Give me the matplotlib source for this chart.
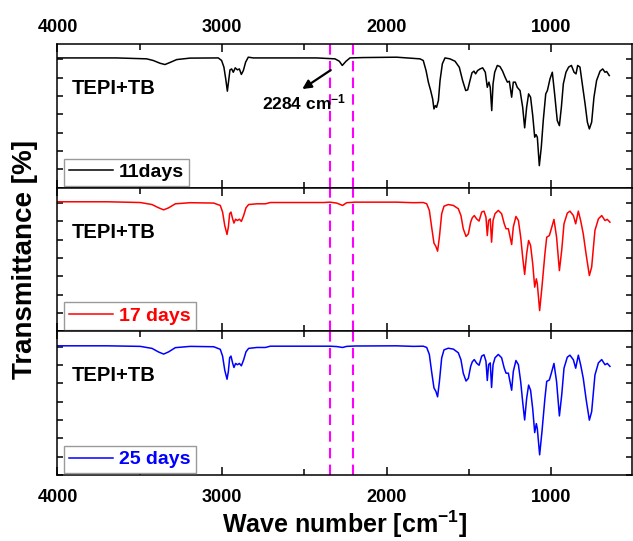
import matplotlib
matplotlib.use("Agg")
import matplotlib.pyplot as plt
from matplotlib.ticker import MultipleLocator

plt.rcParams['font.family'] = ['Liberation Sans', 'DejaVu Sans']
plt.rcParams['font.weight'] = 'bold'
plt.rcParams['mathtext.fontset'] = 'custom'
plt.rcParams['mathtext.rm'] = 'Liberation Sans:bold'
plt.rcParams['mathtext.it'] = 'Liberation Sans:bold'
plt.rcParams['mathtext.bf'] = 'Liberation Sans:bold'

# spectra (wavenumber, transmittance in tick units)
wn_11 = [4000, 3641, 3458, 3418, 3377, 3347, 3317, 3276, 3195, 3023, 3003, 2989, 2978, 2968,
         2960, 2952, 2942, 2932, 2920, 2907, 2895, 2883, 2871, 2857, 2841, 2810, 2628, 2426,
         2314, 2288, 2270, 2247, 2223, 2142, 1940, 1798, 1778, 1761, 1747, 1733, 1721, 1713,
         1705, 1697, 1686, 1676, 1662, 1646, 1616, 1585, 1559, 1539, 1520, 1508, 1494, 1482,
         1470, 1460, 1448, 1433, 1417, 1401, 1389, 1379, 1371, 1362, 1354, 1344, 1328, 1312,
         1296, 1281, 1267, 1255, 1241, 1231, 1219, 1207, 1190, 1174, 1162, 1150, 1138, 1126,
         1113, 1101, 1093, 1085, 1073, 1061, 1049, 1034, 1024, 1008, 994, 980, 964, 951, 939,
         927, 911, 895, 878, 862, 850, 840, 826, 812, 795, 781, 769, 755, 741, 725, 704, 688,
         674, 664, 648]
t_11 = [7.07, 7.07, 7.02, 6.93, 6.78, 6.71, 6.82, 6.98, 7.06, 7.07, 6.93, 6.57, 5.93, 5.26,
        5.84, 6.42, 6.47, 6.29, 6.53, 6.42, 6.47, 6.17, 6.38, 6.84, 7.11, 7.07, 7.07, 7.07,
        7.02, 6.89, 6.66, 6.89, 7.07, 7.09, 7.11, 7.02, 6.93, 6.38, 5.75, 5.29, 4.84, 4.29,
        4.47, 4.38, 4.75, 5.84, 6.75, 7.07, 7.02, 6.89, 6.56, 5.84, 5.29, 5.33, 5.84, 6.26,
        6.35, 6.20, 6.38, 6.47, 6.53, 6.29, 5.47, 5.75, 5.47, 4.20, 5.66, 6.29, 6.66, 6.60,
        6.35, 6.02, 5.75, 5.80, 4.93, 5.75, 5.75, 5.47, 5.29, 4.38, 3.26, 4.38, 5.11, 4.93,
        3.93, 2.75, 2.89, 2.75, 1.20, 2.20, 3.66, 5.11, 5.29, 5.93, 6.29, 5.11, 3.66, 3.38, 4.38,
        5.66, 6.29, 6.57, 6.66, 6.29, 6.20, 6.66, 6.57, 5.66, 4.57, 3.57, 3.20, 3.57, 4.93, 5.84,
        6.35, 6.47, 6.29, 6.33, 6.11]

wn_17 = [4000, 3699, 3497, 3426, 3385, 3355, 3325, 3284, 3193, 3051, 3011, 2997, 2984, 2970,
         2962, 2954, 2946, 2936, 2928, 2918, 2907, 2895, 2883, 2869, 2855, 2839, 2788, 2737,
         2707, 2383, 2345, 2304, 2268, 2243, 2193, 1940, 1838, 1778, 1757, 1741, 1727, 1713,
         1701, 1691, 1680, 1666, 1652, 1626, 1595, 1565, 1549, 1535, 1518, 1504, 1490, 1480,
         1468, 1454, 1439, 1423, 1409, 1397, 1389, 1381, 1371, 1363, 1354, 1342, 1322, 1302,
         1286, 1275, 1261, 1241, 1231, 1215, 1200, 1186, 1174, 1162, 1150, 1138, 1126, 1113,
         1101, 1091, 1085, 1071, 1057, 1039, 1028, 1012, 1000, 984, 968, 951, 937, 923, 903,
         887, 866, 852, 836, 822, 806, 789, 769, 755, 735, 714, 694, 674, 660, 644]
t_17 = [7.06, 7.06, 7.02, 6.91, 6.73, 6.62, 6.73, 6.95, 7.01, 6.99, 6.86, 6.50, 5.77, 5.28,
        5.68, 6.41, 6.50, 6.13, 5.90, 6.11, 6.04, 6.11, 5.99, 6.31, 6.73, 6.91, 6.95, 6.95,
        7.02, 7.02, 7.04, 6.99, 6.86, 7.01, 7.04, 7.04, 7.01, 7.02, 6.95, 6.59, 5.68, 4.81,
        4.62, 4.37, 5.13, 6.41, 6.82, 6.91, 6.86, 6.68, 6.31, 5.59, 5.17, 5.31, 5.95, 6.19,
        6.31, 6.13, 6.01, 6.50, 6.55, 6.22, 5.22, 6.04, 6.13, 4.86, 6.04, 6.41, 6.59, 6.41,
        5.86, 5.59, 5.59, 4.73, 5.68, 6.26, 6.04, 5.13, 4.04, 3.10, 4.22, 4.95, 4.68, 3.68,
        2.41, 2.86, 2.59, 1.13, 2.41, 4.22, 5.13, 5.22, 5.59, 6.10, 5.13, 3.31, 4.41, 5.86, 6.44,
        6.55, 6.31, 5.86, 6.55, 6.04, 5.31, 4.22, 3.04, 3.50, 5.50, 6.13, 6.31, 6.04, 6.10, 5.95]

wn_25 = wn_17
t_25 = [7.04, 7.04, 7.01, 6.90, 6.70, 6.59, 6.71, 6.94, 7.01, 6.99, 6.85, 6.48, 5.72, 5.22,
        5.64, 6.39, 6.48, 6.10, 5.86, 6.08, 6.01, 6.08, 5.95, 6.28, 6.71, 6.90, 6.95, 6.95,
        7.02, 7.02, 7.02, 7.00, 6.95, 7.01, 7.03, 7.04, 7.01, 7.02, 6.95, 6.57, 5.62, 4.75,
        4.55, 4.26, 5.08, 6.38, 6.82, 6.91, 6.86, 6.66, 6.28, 5.55, 5.12, 5.27, 5.92, 6.17,
        6.29, 6.10, 5.98, 6.48, 6.55, 6.20, 5.15, 6.02, 6.11, 4.77, 6.01, 6.39, 6.57, 6.39,
        5.82, 5.55, 5.55, 4.62, 5.64, 6.24, 6.01, 5.08, 3.98, 3.00, 4.17, 4.90, 4.62, 3.60,
        2.31, 2.80, 2.52, 1.10, 2.35, 4.17, 5.10, 5.18, 5.55, 6.08, 5.08, 3.22, 4.35, 5.82, 6.42,
        6.53, 6.28, 5.82, 6.53, 6.01, 5.27, 4.15, 2.99, 3.45, 5.45, 6.11, 6.29, 6.01, 6.08, 5.92]

series = [(wn_11, t_11, 'black', '11days'),
          (wn_17, t_17, 'red', '17 days'),
          (wn_25, t_25, 'blue', '25 days')]
marker_lines = [2345, 2202]

fig = plt.figure(figsize=(6.33, 5.41), dpi=100)
fig.subplots_adjust(left=0.0908, right=0.9984, top=0.9187, bottom=0.122, hspace=0)
axes = fig.subplots(3, 1, sharex=True)

for i, (ax, (wn, t, col, lab)) in enumerate(zip(axes, series)):
    ax.plot(wn, t, color=col, lw=1.1, label=lab)
    for m in marker_lines:
        ax.axvline(m, color='#FF00FF', lw=1.5, ls=(0, (5, 3)))
    ax.set_xlim(4000, 510)
    ax.set_ylim(0, 7.83)
    ax.xaxis.set_major_locator(MultipleLocator(1000))
    ax.xaxis.set_minor_locator(MultipleLocator(500))
    ax.yaxis.set_major_locator(MultipleLocator(1))
    ax.tick_params(which='major', direction='in', top=True, bottom=True, left=True, right=True,
                   length=6, width=1.1, labelsize=13,
                   labelleft=False, labelbottom=(i == 2), labeltop=(i == 0))
    ax.tick_params(which='minor', direction='in', top=True, bottom=True, length=4, width=1.1)
    ax.tick_params(axis='y', length=4)
    for s in ax.spines.values():
        s.set_linewidth(1.1)
    ax.text(0.024, 0.652, 'TEPI+TB', transform=ax.transAxes, fontsize=14.5,
            fontweight='bold', ha='left', va='baseline')
    ax.legend(loc='lower left', bbox_to_anchor=(0.011, 0.012), borderaxespad=0,
              handlelength=2.3, handletextpad=0.3, borderpad=0.25,
              fancybox=False, edgecolor='#9a9a9a', framealpha=1, labelcolor='linecolor',
              prop={'weight': 'bold', 'size': 14})

# top labels sit a bit lower, bottom ones a bit further out
for lbl in axes[0].xaxis.get_major_ticks():
    lbl.set_pad(5.5)
for lbl in axes[2].xaxis.get_major_ticks():
    lbl.set_pad(10)

axes[0].annotate('', xy=(2527, 5.29), xytext=(2326, 6.49),
                 arrowprops=dict(arrowstyle='-|>', color='black', lw=1.6, mutation_scale=13))
axes[0].text(2759, 4.26, r'2284 cm$^{-1}$', fontsize=12.5, fontweight='bold',
             ha='left', va='baseline')

axes[2].set_xlabel(r'Wave number [cm$^{-1}$]', fontsize=18, fontweight='bold', labelpad=2)
fig.text(0.04, 0.52, 'Transmittance [%]', rotation=90, fontsize=20, fontweight='bold',
         ha='center', va='center')

fig.savefig('out.png', dpi=100)
